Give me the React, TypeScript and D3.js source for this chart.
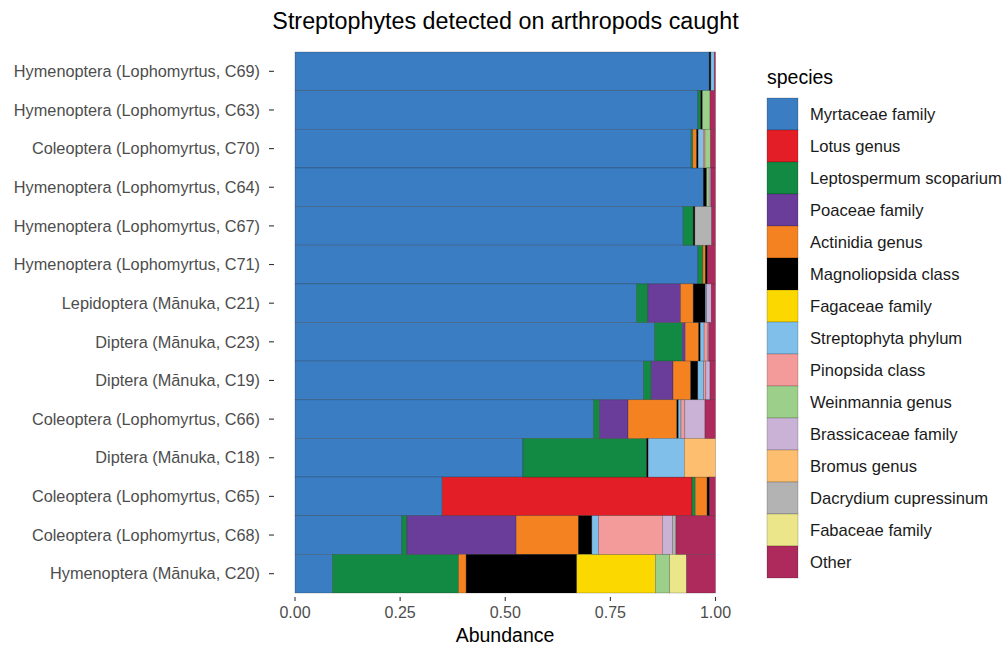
import React from "react";
import * as d3 from "d3";

const title = "Streptophytes detected on arthropods caught";
const xTitle = "Abundance";
const legendTitle = "species";

const samples = [
  "Hymenoptera (Lophomyrtus, C69)",
  "Hymenoptera (Lophomyrtus, C63)",
  "Coleoptera (Lophomyrtus, C70)",
  "Hymenoptera (Lophomyrtus, C64)",
  "Hymenoptera (Lophomyrtus, C67)",
  "Hymenoptera (Lophomyrtus, C71)",
  "Lepidoptera (Mānuka, C21)",
  "Diptera (Mānuka, C23)",
  "Diptera (Mānuka, C19)",
  "Coleoptera (Lophomyrtus, C66)",
  "Diptera (Mānuka, C18)",
  "Coleoptera (Lophomyrtus, C65)",
  "Coleoptera (Lophomyrtus, C68)",
  "Hymenoptera (Mānuka, C20)",
];

const species = [
  "Myrtaceae family",
  "Lotus genus",
  "Leptospermum scoparium",
  "Poaceae family",
  "Actinidia genus",
  "Magnoliopsida class",
  "Fagaceae family",
  "Streptophyta phylum",
  "Pinopsida class",
  "Weinmannia genus",
  "Brassicaceae family",
  "Bromus genus",
  "Dacrydium cupressinum",
  "Fabaceae family",
  "Other",
];

const speciesColors = [
  "#3B7DC3", "#E31E26", "#138A43", "#6A3D9A", "#F58220",
  "#000000", "#FAD800", "#80BFEA", "#F39A9A", "#9BCF8A",
  "#CAB2D6", "#FDBF6F", "#B3B3B3", "#ECE68A", "#AE2A5D",
];

// values per species, rows in order of `samples`
const myrtaceae = [0.985, 0.958, 0.942, 0.971, 0.923, 0.958, 0.812, 0.855, 0.829, 0.710, 0.542, 0.350, 0.254, 0.089];
const lotus = [0, 0, 0, 0, 0, 0, 0, 0, 0, 0, 0, 0.594, 0, 0];
const leptospermum = [0, 0.007, 0.004, 0, 0.024, 0.012, 0.027, 0.066, 0.018, 0.014, 0.294, 0.008, 0.012, 0.300];
const poaceae = [0, 0, 0, 0, 0, 0, 0.078, 0.007, 0.052, 0.068, 0, 0, 0.260, 0];
const actinidia = [0, 0, 0.009, 0, 0, 0.006, 0.030, 0.032, 0.042, 0.116, 0, 0.028, 0.148, 0.018];
const magnoliopsida = [0.004, 0.004, 0.004, 0.008, 0.004, 0.005, 0.029, 0.004, 0.017, 0.004, 0.004, 0.006, 0.032, 0.263];
const fagaceae = [0, 0, 0, 0, 0, 0, 0, 0, 0, 0, 0, 0, 0, 0.187];
const streptophyta = [0.008, 0, 0.012, 0, 0, 0, 0.003, 0.009, 0.014, 0.006, 0.086, 0, 0.016, 0];
const pinopsida = [0, 0, 0.004, 0, 0, 0, 0, 0.008, 0.005, 0.009, 0, 0, 0.152, 0];
const weinmannia = [0, 0.018, 0.013, 0.006, 0, 0, 0, 0, 0, 0, 0, 0, 0, 0.034];
const brassicaceae = [0, 0, 0, 0.004, 0, 0, 0.011, 0.003, 0.010, 0.048, 0, 0, 0.024, 0];
const bromus = [0, 0, 0, 0, 0, 0, 0, 0, 0, 0, 0.074, 0, 0, 0];
const dacrydium = [0, 0, 0, 0, 0.040, 0, 0, 0, 0, 0, 0, 0, 0.008, 0];
const fabaceae = [0, 0, 0, 0, 0, 0, 0, 0, 0, 0, 0, 0, 0, 0.040];
const other = [0.003, 0.013, 0.012, 0.011, 0.009, 0.019, 0.010, 0.016, 0.013, 0.025, 0, 0.014, 0.094, 0.069];

const xTicks = [0, 0.25, 0.5, 0.75, 1];
const xTickLabels = ["0.00", "0.25", "0.50", "0.75", "1.00"];

const seriesValues = [
  myrtaceae, lotus, leptospermum, poaceae, actinidia, magnoliopsida, fagaceae,
  streptophyta, pinopsida, weinmannia, brassicaceae, bromus, dacrydium, fabaceae, other,
];

const FONT = "'Liberation Sans', Arial, Helvetica, sans-serif";

export default function App() {
  const W = 1003;
  const H = 646;

  const rows = samples.map((s, i) => {
    const r: Record<string, any> = { sample: s };
    species.forEach((sp, k) => (r[sp] = seriesValues[k][i]));
    return r;
  });
  const stacked = d3.stack<any>().keys(species)(rows);

  const x = d3.scaleLinear().domain([0, 1]).range([295, 715.5]);
  const y = d3.scaleBand().domain(samples).range([52, 593]).paddingInner(0).paddingOuter(0);
  const color = d3.scaleOrdinal<string, string>().domain(species).range(speciesColors);

  const panelLeft = x(-0.05);
  const panelBottom = 597;

  const legendX = 767;
  const legendY0 = 98;
  const keyH = 32;
  const keyW = 31;

  return (
    <div style={{ position: "absolute", left: 0, top: 0 }}>
      <svg width={W} height={H} style={{ display: "block", background: "#fff" }} fontFamily={FONT}>
        <text x={505.5} y={28.5} textAnchor="middle" fontSize={23.3} fill="#000">
          {title}
        </text>

        {stacked.map((layer, k) => (
          <g key={species[k]}>
            {layer.map((d, i) => {
              const w = x(d[1]) - x(d[0]);
              if (w <= 0) return null;
              return (
                <rect
                  key={i}
                  x={x(d[0])}
                  y={y(samples[i])!}
                  width={w}
                  height={y.bandwidth()}
                  fill={color(species[k])}
                  stroke="rgba(0,0,0,0.35)"
                  strokeWidth={0.6}
                />
              );
            })}
          </g>
        ))}

        {/* y axis */}
        {samples.map((s) => {
          const cy = y(s)! + y.bandwidth() / 2;
          return (
            <g key={s}>
              <line x1={panelLeft - 5} x2={panelLeft} y1={cy} y2={cy} stroke="#333" strokeWidth={1.1} />
              <text x={260} y={cy} dy="0.35em" textAnchor="end" fontSize={16.3} fill="#4d4d4d">
                {s}
              </text>
            </g>
          );
        })}

        {/* x axis */}
        {xTicks.map((t, i) => (
          <g key={t}>
            <line x1={x(t)} x2={x(t)} y1={panelBottom} y2={panelBottom + 4} stroke="#333" strokeWidth={1.1} />
            <text x={x(t)} y={618} textAnchor="middle" fontSize={16} fill="#4d4d4d">
              {xTickLabels[i]}
            </text>
          </g>
        ))}
        <text x={505} y={642} textAnchor="middle" fontSize={19.5} fill="#000">
          {xTitle}
        </text>

        {/* legend */}
        <text x={legendX} y={84} fontSize={19.5} fill="#000">
          {legendTitle}
        </text>
        {species.map((sp, k) => (
          <g key={sp}>
            <rect
              x={legendX}
              y={legendY0 + k * keyH}
              width={keyW}
              height={keyH}
              fill={color(sp)}
              stroke="rgba(0,0,0,0.3)"
              strokeWidth={0.6}
            />
            <text
              x={810}
              y={legendY0 + k * keyH + keyH / 2}
              dy="0.35em"
              fontSize={16.6}
              fill="#1a1a1a"
            >
              {sp}
            </text>
          </g>
        ))}
      </svg>
    </div>
  );
}
